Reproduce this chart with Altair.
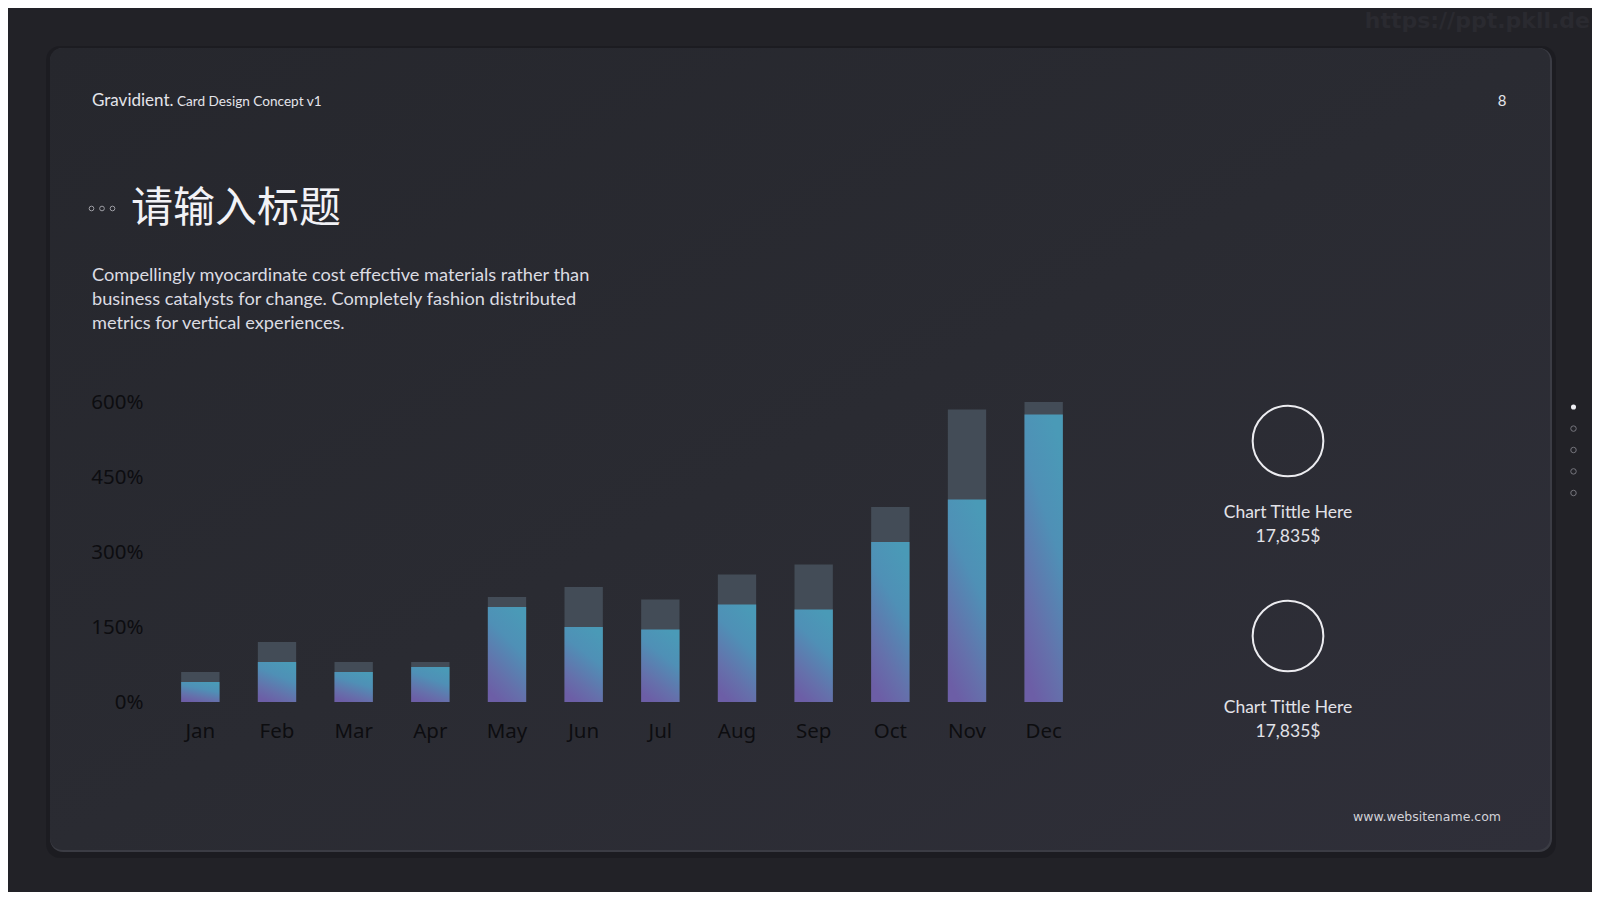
import altair as alt
import pandas as pd

# ---------------- data ----------------
months = ["Jan", "Feb", "Mar", "Apr", "May", "Jun", "Jul", "Aug", "Sep", "Oct", "Nov", "Dec"]
totals = [60, 120, 80, 80, 210, 230, 205, 255, 275, 390, 585, 600]
values = [40, 80, 60, 70, 190, 150, 145, 195, 185, 320, 405, 575]
y_ticks = [0, 150, 300, 450, 600]

title_cn = "请输入标题"
para_lines = [
    "Compellingly myocardinate cost effective materials rather than",
    "business catalysts for change. Completely fashion distributed",
    "metrics for vertical experiences.",
]
kpi_titles = ["Chart Tittle Here", "Chart Tittle Here"]
kpi_values = ["17,835$", "17,835$"]

df = pd.DataFrame({"month": months, "total": totals, "value": values})

# plot area placement (page coords)
X0, Y0, W, H = 162, 402, 920, 300


def px(x):
    return x - X0


def py(y):
    return y - Y0


one = pd.DataFrame({"a": [0]})
LATIN = "Lato"

layers = []

# card shadow / edge highlight
layers.append(
    alt.Chart(one).mark_rect(cornerRadius=14, color="#1c1c20", opacity=0.8).encode(
        x=alt.value(px(46)), x2=alt.value(px(1556)), y=alt.value(py(46)), y2=alt.value(py(858))
    )
)
layers.append(
    alt.Chart(one).mark_rect(cornerRadius=13, color="#3b3c44").encode(
        x=alt.value(px(50)), x2=alt.value(px(1552)), y=alt.value(py(48)), y2=alt.value(py(852))
    )
)
card_grad = alt.Gradient(
    gradient="linear",
    stops=[
        alt.GradientStop(color="#26272d", offset=0),
        alt.GradientStop(color="#2a2b32", offset=0.5),
        alt.GradientStop(color="#2f2f39", offset=1),
    ],
    x1=0, y1=0, x2=1, y2=1,
)
layers.append(
    alt.Chart(one).mark_rect(cornerRadius=12, color=card_grad).encode(
        x=alt.value(px(50)), x2=alt.value(px(1550)), y=alt.value(py(48)), y2=alt.value(py(850))
    )
)

# watermark
layers.append(
    alt.Chart(one).mark_text(
        text="https://ppt.pkll.de", font="DejaVu Sans", fontWeight="bold", fontSize=22,
        color="#2a2a30", align="right", baseline="middle"
    ).encode(x=alt.value(px(1590)), y=alt.value(py(21)))
)

# header
layers.append(
    alt.Chart(one).mark_text(
        text="Gravidient.", font=LATIN, fontSize=17, color="#e4e4ea", align="left", baseline="alphabetic"
    ).encode(x=alt.value(px(92)), y=alt.value(py(106)))
)
layers.append(
    alt.Chart(one).mark_text(
        text="Card Design Concept v1", font=LATIN, fontSize=13.6, color="#e4e4ea", align="left", baseline="alphabetic"
    ).encode(x=alt.value(px(177)), y=alt.value(py(106)))
)
layers.append(
    alt.Chart(one).mark_text(
        text="8", font=LATIN, fontSize=15, color="#e4e4ea", align="center", baseline="middle"
    ).encode(x=alt.value(px(1502)), y=alt.value(py(101)))
)

# title dots + title
for dx in [91.5, 102, 112.5]:
    layers.append(
        alt.Chart(one).mark_point(shape="circle", size=22, filled=False, color="#cfcfd6", strokeWidth=1).encode(
            x=alt.value(px(dx)), y=alt.value(py(208.5))
        )
    )
layers.append(
    alt.Chart(one).mark_text(
        text=title_cn, font="Noto Sans CJK SC", fontSize=42, color="#f2f2f6", align="left", baseline="middle"
    ).encode(x=alt.value(px(131)), y=alt.value(py(209)))
)

# paragraph
layers.append(
    alt.Chart(one).mark_text(
        text=para_lines, font=LATIN, fontSize=18.2, lineHeight=23.8, color="#dcdce2", align="left", baseline="alphabetic"
    ).encode(x=alt.value(px(92)), y=alt.value(py(281)))
)

# KPI circles and labels
for cy, t, v in zip([441, 636], kpi_titles, kpi_values):
    layers.append(
        alt.Chart(one).mark_point(shape="circle", size=5000, filled=False, color="#ececf0", strokeWidth=2, opacity=1).encode(
            x=alt.value(px(1288)), y=alt.value(py(cy))
        )
    )
    layers.append(
        alt.Chart(one).mark_text(
            text=t, font=LATIN, fontSize=17.5, color="#e2e2e8", align="center", baseline="middle"
        ).encode(x=alt.value(px(1288)), y=alt.value(py(cy + 72)))
    )
    layers.append(
        alt.Chart(one).mark_text(
            text=v, font=LATIN, fontSize=17.5, color="#e2e2e8", align="center", baseline="middle"
        ).encode(x=alt.value(px(1288)), y=alt.value(py(cy + 96)))
    )

# navigation dots
for i, ny in enumerate([407, 428.6, 450, 471.4, 493]):
    if i == 0:
        mk = alt.Chart(one).mark_point(shape="circle", size=26, filled=True, color="#f0f0f4", opacity=1)
    else:
        mk = alt.Chart(one).mark_point(shape="circle", size=30, filled=False, color="#9a9aa2", strokeWidth=1)
    layers.append(mk.encode(x=alt.value(px(1573.5)), y=alt.value(py(ny))))

# footer
layers.append(
    alt.Chart(one).mark_text(
        text="www.websitename.com", font="DejaVu Sans", fontSize=12.5, color="#d2d2d8", align="right", baseline="middle"
    ).encode(x=alt.value(px(1501)), y=alt.value(py(817)))
)

# ---------------- bars ----------------
AXIS_COLOR = "#0d0d10"
x_enc = alt.X(
    "month:N",
    sort=months,
    scale=alt.Scale(paddingInner=0.5, paddingOuter=0.25),
    axis=alt.Axis(
        title=None, labelAngle=0, domain=False, ticks=False, tickSize=0, labelPadding=19,
        labelFont="Noto Sans", labelFontSize=20.5, labelColor=AXIS_COLOR, grid=False, zindex=2,
    ),
)
y_scale = alt.Scale(domain=[0, 600], nice=False, zero=True)

back = alt.Chart(df).mark_bar(color="#434c57").encode(
    x=x_enc,
    y=alt.Y(
        "total:Q",
        scale=y_scale,
        axis=alt.Axis(
            title=None, values=y_ticks, labelExpr="datum.value + '%'", domain=False, ticks=False, tickSize=0,
            grid=False, labelPadding=19, labelFont="Noto Sans", labelFontSize=20.5, labelColor=AXIS_COLOR,
            zindex=2,
        ),
    ),
)
bar_grad = alt.Gradient(
    gradient="linear",
    stops=[
        alt.GradientStop(color="#4a9ab7", offset=0),
        alt.GradientStop(color="#4f90b6", offset=0.35),
        alt.GradientStop(color="#6570ab", offset=0.75),
        alt.GradientStop(color="#6c5ea6", offset=1),
    ],
    x1=0.7, y1=0, x2=0.3, y2=1,
)
front = alt.Chart(df).mark_bar(color=bar_grad).encode(
    x=alt.X("month:N", sort=months),
    y=alt.Y("value:Q", scale=y_scale),
)

layers += [back, front]

chart = (
    alt.layer(*layers)
    .properties(
        width=W,
        height=H,
        autosize=alt.AutoSizeParams(type="none"),
        padding={"left": X0 - 8, "top": Y0 - 8, "right": 1584 - (X0 - 8) - W, "bottom": 884 - (Y0 - 8) - H},
        background="#222227",
    )
    .configure_view(stroke=None)
)

chart.save("out.html", embed_options={"renderer": "svg", "actions": False})
